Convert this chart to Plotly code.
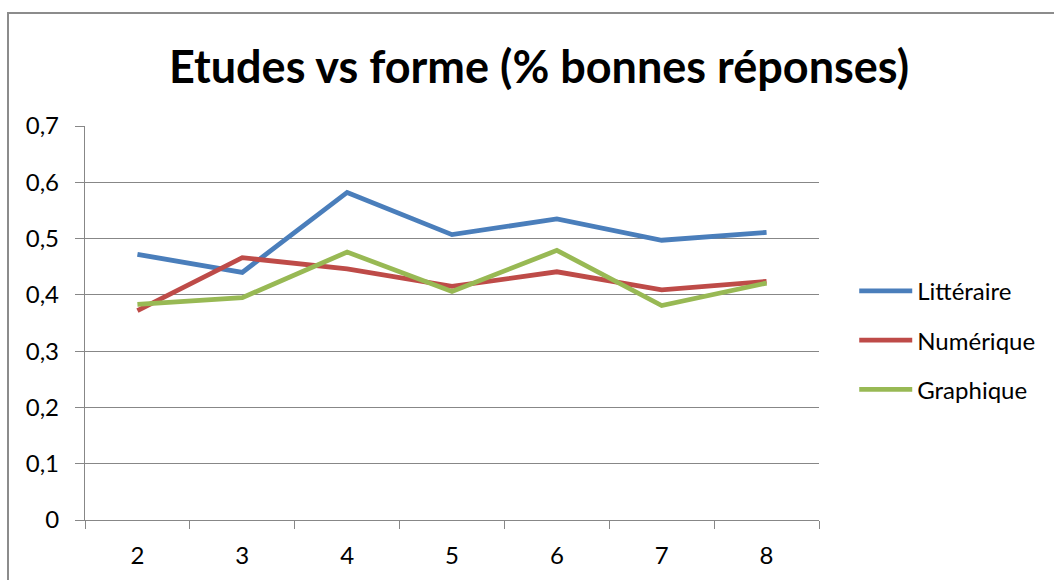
import plotly.graph_objects as go

# Niveau d'études (catégories de l'axe horizontal)
niveaux = ["2", "3", "4", "5", "6", "7", "8"]

# Part de bonnes réponses selon la forme de présentation
litteraire = [0.472, 0.440, 0.582, 0.507, 0.535, 0.497, 0.511]
numerique = [0.372, 0.466, 0.446, 0.415, 0.441, 0.409, 0.424]
graphique = [0.383, 0.395, 0.476, 0.406, 0.479, 0.381, 0.421]

y_ticks = [0, 0.1, 0.2, 0.3, 0.4, 0.5, 0.6, 0.7]
y_tick_labels = ["0", "0,1", "0,2", "0,3", "0,4", "0,5", "0,6", "0,7"]

titre = "Etudes vs forme (% bonnes réponses)"

series = [
    ("Littéraire", litteraire, "#4A7EBB"),
    ("Numérique", numerique, "#BE4B48"),
    ("Graphique", graphique, "#98B954"),
]

FONT = "Lato, 'Open Sans', sans-serif"
GRID = "#878787"
TICK_SIZE = 24

fig = go.Figure()
for name, values, color in series:
    fig.add_trace(go.Scatter(
        x=niveaux, y=values, name=name, mode="lines",
        legendgroup=name,
        line=dict(color=color, width=4.8),
    ))

fig.update_layout(
    width=1054, height=580,
    margin=dict(l=85, r=235, t=126, b=60),
    paper_bgcolor="white", plot_bgcolor="white",
    font=dict(family=FONT, size=TICK_SIZE, color="black"),
    title=dict(
        text="<b>" + titre + "</b>",
        font=dict(family=FONT, size=45, color="black"),
        x=539 / 1054, xanchor="center", xref="container",
        y=1 - 67 / 580, yanchor="middle", yref="container",
    ),
    showlegend=True,
    legend=dict(
        x=1.048, xanchor="left", y=0.456, yanchor="middle",
        font=dict(family=FONT, size=TICK_SIZE, color="black"),
        tracegroupgap=15, itemwidth=53, bgcolor="rgba(0,0,0,0)",
    ),
    xaxis=dict(
        type="category", range=[-0.5, 6.5],
        tickson="boundaries", ticks="outside", ticklen=8, tickcolor=GRID,
        showline=True, linecolor=GRID, linewidth=1.3,
        showgrid=False, zeroline=False, ticklabelstandoff=14,
        tickfont=dict(family=FONT, size=TICK_SIZE, color="black"),
    ),
    yaxis=dict(
        range=[0, 0.7], tickvals=y_ticks, ticktext=y_tick_labels,
        ticks="outside", ticklen=9, tickcolor=GRID,
        showline=True, linecolor=GRID, linewidth=1.3,
        showgrid=True, gridcolor=GRID, gridwidth=1.3,
        zeroline=False, ticklabelstandoff=11,
        tickfont=dict(family=FONT, size=TICK_SIZE, color="black"),
    ),
)

# Cadre de la zone du graphique
fig.add_shape(
    type="rect", xref="paper", yref="paper",
    x0=(8 - 85) / 734, x1=(1100 - 85) / 734,
    y0=(520 - 620) / 394, y1=(520 - 13) / 394,
    line=dict(color="#8C8C8C", width=2), layer="below",
)

fig.write_html("out.html")
